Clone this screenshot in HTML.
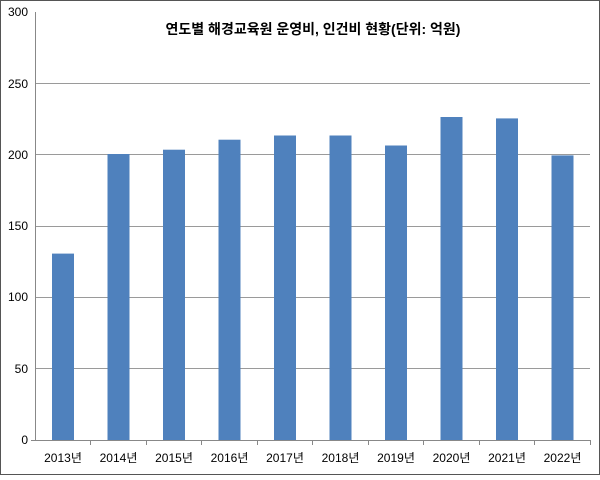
<!DOCTYPE html>
<html><head><meta charset="utf-8"><style>body{margin:0;background:#fff}</style></head><body>
<svg width="600" height="475" xmlns="http://www.w3.org/2000/svg" font-family="Liberation Sans, Noto Sans CJK KR, sans-serif">
<rect x="0.5" y="0.5" width="599" height="474" fill="#fff" stroke="#555"/>
<g stroke="#9a9a9a" stroke-width="1">
<line x1="35" y1="12.5" x2="590" y2="12.5" stroke="none"/>
<line x1="35" y1="83.5" x2="590" y2="83.5"/>
<line x1="35" y1="154.5" x2="590" y2="154.5"/>
<line x1="35" y1="226.5" x2="590" y2="226.5"/>
<line x1="35" y1="297.5" x2="590" y2="297.5"/>
<line x1="35" y1="368.5" x2="590" y2="368.5"/>
</g>
<g fill="#4f81bd">
<rect x="52" y="253.6" width="22" height="186.4"/>
<rect x="107.5" y="154.0" width="22" height="286"/>
<rect x="163" y="149.7" width="22" height="290.3"/>
<rect x="218.5" y="139.7" width="22" height="300.3"/>
<rect x="274" y="135.5" width="22" height="304.5"/>
<rect x="329.5" y="135.5" width="22" height="304.5"/>
<rect x="385" y="145.5" width="22" height="294.5"/>
<rect x="440.5" y="117" width="22" height="323"/>
<rect x="496" y="118.4" width="22" height="321.6"/>
<rect x="551.5" y="155.4" width="22" height="284.6"/>
</g>
<g stroke="#888" stroke-width="1">
<line x1="35.5" y1="12" x2="35.5" y2="440"/>
<line x1="31" y1="440.5" x2="590" y2="440.5"/>
<line x1="90.5" y1="440" x2="90.5" y2="445"/><line x1="146.5" y1="440" x2="146.5" y2="445"/>
<line x1="201.5" y1="440" x2="201.5" y2="445"/><line x1="257.5" y1="440" x2="257.5" y2="445"/>
<line x1="312.5" y1="440" x2="312.5" y2="445"/><line x1="368.5" y1="440" x2="368.5" y2="445"/>
<line x1="423.5" y1="440" x2="423.5" y2="445"/><line x1="479.5" y1="440" x2="479.5" y2="445"/>
<line x1="534.5" y1="440" x2="534.5" y2="445"/><line x1="590.5" y1="440" x2="590.5" y2="445"/>
</g>
<g font-size="12" fill="#000" text-anchor="end">
<text x="28" y="16">300</text><text x="28" y="88">250</text><text x="28" y="159">200</text>
<text x="28" y="230">150</text><text x="28" y="301">100</text><text x="28" y="373">50</text><text x="28" y="444">0</text>
</g>
<g font-size="12" fill="#000" text-anchor="middle">
<text x="63" y="462">2013년</text><text x="118.5" y="462">2014년</text><text x="174" y="462">2015년</text>
<text x="229.5" y="462">2016년</text><text x="285" y="462">2017년</text><text x="340.5" y="462">2018년</text>
<text x="396" y="462">2019년</text><text x="451.5" y="462">2020년</text><text x="507" y="462">2021년</text>
<text x="562.5" y="462">2022년</text>
</g>
<text x="313" y="34" font-size="14" font-weight="bold" text-anchor="middle">연도별 해경교육원 운영비, 인건비 현황(단위: 억원)</text>
</svg>
</body></html>
